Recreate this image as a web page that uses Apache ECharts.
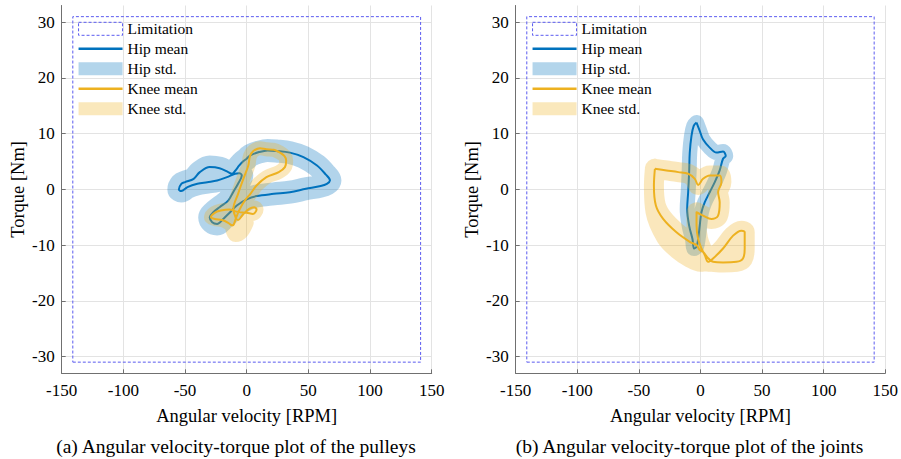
<!DOCTYPE html>
<html><head><meta charset="utf-8">
<script src="https://cdn.jsdelivr.net/npm/echarts@6/dist/echarts.min.js"></script>
<style>html,body{margin:0;padding:0;background:#fff}#c{width:901px;height:459px}</style>
</head><body><div id="c"></div>
<script>
// ---------- data ----------
const xMin = -150, xMax = 150, xStep = 50;
const yMin = -33, yMax = 33;
const legendNames = ['Limitation', 'Hip mean', 'Hip std.', 'Knee mean', 'Knee std.'];
const captions = ['(a) Angular velocity-torque plot of the pulleys', '(b) Angular velocity-torque plot of the joints'];
const axisNames = ['Angular velocity [RPM]', 'Torque [Nm]'];

// limitation rectangle corners [velocity, torque]
const limitation = [[-141, -31], [141, -31], [141, 31], [-141, 31], [-141, -31]];

// (a) pulleys: mean loops [velocity RPM, torque Nm]
const pulleyHipMean = [
  [0, 5.5], [3, 6.1], [10, 6.7], [17, 7.0], [24, 6.9], [35, 6.6], [46, 5.8], [57, 4.3], [64, 2.7], [67.5, 1.6],
  [65, 1.0], [60, 0.6], [48, 0.1], [35, -0.5], [22, -0.8], [8, -1.2], [0, -1.8], [-8, -2.9], [-13.5, -4.1],
  [-19, -5.3], [-24, -6.2], [-28, -5.9], [-30, -5.0], [-27, -4.1], [-22, -3.2], [-15, -2.0], [-11, -0.5],
  [-7, 1.0], [-4, 2.5], [-6, 2.9], [-9.5, 2.8], [-16, 2.2], [-24, 1.6], [-32, 1.3], [-40, 1.0], [-48, 0.4],
  [-53, -0.3], [-55, 0.0], [-53, 1.0], [-50, 1.3], [-43, 1.9], [-38, 3.1], [-30, 4.0], [-22, 3.8], [-15, 3.1],
  [-12, 2.8], [-9.5, 3.3], [-6, 4.3], [-3, 5.0], [0, 5.5]
];
const pulleyKneeMean = [
  [-12, -6.5], [-15, -6.0], [-20, -5.5], [-26, -5.3], [-29, -5.0], [-26, -4.2], [-21, -3.8], [-14, -3.6],
  [-8, -4.0], [0, -4.2], [5, -4.4], [8, -3.6], [6, -3.2], [2, -3.5], [-3, -4.5], [-7, -5.5], [-9, -5.0],
  [-10.8, -3.5], [-7, -0.8], [-2.7, 1.9], [1.3, 4.3], [2.7, 6.0], [5.4, 6.9], [10.8, 7.4], [16, 7.2], [22, 7.1],
  [27, 6.6], [30.5, 6.0], [32, 5.2], [31, 4.0], [26, 3.1], [16, 2.2], [8, 0.7], [3, -0.8], [-1.5, -2.0],
  [-5.5, -3.5], [-8.5, -5.0], [-10.5, -6.3], [-12, -6.5]
];
// (a) centre lines of the shaded std bands
const pulleyHipStd = pulleyHipMean;
const pulleyKneeStd = pulleyKneeMean.concat([[-9, -8.2], [-4, -7.6], [0, -6.0]]);

// (b) joints
const jointHipMean = [
  [-3.2, 12.0], [-0.6, 10.5], [2, 9.0], [7.5, 7.5], [13, 6.6], [18.3, 6.8], [20.5, 6.0], [18.3, 5.5], [15.6, 3.4],
  [11.6, 1.3], [7.5, -0.5], [3.5, -2.3], [0.8, -4.1], [-0.6, -6.5], [-1.9, -8.9], [-3.2, -10.3], [-5.2, -10.6],
  [-6.5, -8.9], [-9.2, -6.5], [-10.8, -3.5], [-10, -0.5], [-9.2, 3.1], [-8.7, 6.6], [-7.3, 9.6], [-5.5, 11.4],
  [-3.2, 12.0]
];
const jointKneeMean = [
  [-37, 3.7], [-27.6, 3.4], [-18, 3.1], [-10, 2.8], [-4.6, 1.9], [-1.9, 0.8], [2.1, 1.9], [7.5, 2.5], [15.6, 2.5],
  [17, 1.3], [14.3, -0.5], [15.6, -2.3], [14.3, -4.7], [8.9, -5.3], [2.1, -4.7], [-3.2, -4.1], [-3.2, -6.5],
  [-1.9, -8.9], [0.8, -10.6], [3.5, -11.8], [6.2, -13.0], [10.2, -12.4], [18.3, -10.6], [26.5, -8.3], [33.2, -7.4],
  [35.9, -7.7], [35.9, -10.6], [34.5, -12.4], [29.2, -13.0], [18.3, -13.1], [10.2, -13.0], [6, -12.3], [2, -11.2],
  [-0.6, -10.9], [-3.2, -10.0], [-8.7, -9.4], [-19.5, -7.7], [-30.3, -5.3], [-36.2, -2.9], [-37.8, 0.7], [-37, 3.7]
];
const jointHipStd = jointHipMean;
const jointKneeStd = jointKneeMean.concat([
  [-37.8, 0.7], [-36.5, -4.0], [-28, -8.5], [-18, -10.8], [-8, -12.3], [0, -13.0], [8, -12.2], [16, -11.3],
  [24, -10.5], [31, -10.2]
]);

// ---------- styling ----------
const HIP = '#0072BD', KNEE = '#EDB120', LIM = '#5b5bf0';
const FONT = "'Liberation Serif','Times New Roman',serif";
const panels = [
  { left: 61.7, hip: pulleyHipMean, knee: pulleyKneeMean, hipStd: pulleyHipStd, kneeStd: pulleyKneeStd, hipBand: 23, kneeBand: 14, cap: 236 },
  { left: 515.7, hip: jointHipMean, knee: jointKneeMean, hipStd: jointHipStd, kneeStd: jointKneeStd, hipBand: 15, kneeBand: 20, cap: 689.5 }
];
const gridTop = 5.5, gridH = 367.8, gridW = 370;

const grids = [], xAxes = [], yAxes = [], series = [], legends = [], graphics = [];
panels.forEach((p, i) => {
  grids.push({ left: p.left, top: gridTop, width: gridW, height: gridH });
  xAxes.push({
    type: 'value', gridIndex: i, min: xMin, max: xMax, interval: xStep,
    name: axisNames[0], nameLocation: 'middle', nameGap: 33,
    nameTextStyle: { fontFamily: FONT, fontSize: 18.5, color: '#000' },
    axisLine: { onZero: false, lineStyle: { color: '#707070', width: 1 } },
    axisTick: { inside: true, length: 4, lineStyle: { color: '#707070' } },
    axisLabel: { fontFamily: FONT, fontSize: 17, color: '#000', margin: 9 },
    splitLine: { show: true, lineStyle: { color: '#e3e3e3', width: 1 } }
  });
  yAxes.push({
    type: 'value', gridIndex: i, min: yMin, max: yMax, splitNumber: 6,
    name: axisNames[1], nameLocation: 'middle', nameGap: 34, nameRotate: 90,
    nameTextStyle: { fontFamily: FONT, fontSize: 18.5, color: '#000' },
    axisLine: { onZero: false, lineStyle: { color: '#707070', width: 1 } },
    axisTick: { inside: true, length: 4, lineStyle: { color: '#707070' } },
    axisLabel: { fontFamily: FONT, fontSize: 17, color: '#000', margin: 7, showMinLabel: false, showMaxLabel: false },
    splitLine: { show: true, showMinLine: false, showMaxLine: false, lineStyle: { color: '#e3e3e3', width: 1 } }
  });
  const base = { type: 'line', xAxisIndex: i, yAxisIndex: i, symbol: 'none', silent: true, animation: false };
  series.push(Object.assign({}, base, {
    name: legendNames[0], data: limitation, color: LIM,
    lineStyle: { color: LIM, width: 1, type: [3, 2] }
  }));
  series.push(Object.assign({}, base, {
    name: legendNames[2], data: p.hipStd, color: HIP, smooth: 0.35,
    lineStyle: { color: HIP, width: p.hipBand, opacity: 0.3, cap: 'round', join: 'round' }
  }));
  series.push(Object.assign({}, base, {
    name: legendNames[1], data: p.hip, color: HIP, smooth: 0.35,
    lineStyle: { color: HIP, width: 2, join: 'round' }
  }));
  series.push(Object.assign({}, base, {
    name: legendNames[4], data: p.kneeStd, color: KNEE, smooth: 0.35,
    lineStyle: { color: KNEE, width: p.kneeBand, opacity: 0.3, cap: 'round', join: 'round' }
  }));
  series.push(Object.assign({}, base, {
    name: legendNames[3], data: p.knee, color: KNEE, smooth: 0.35,
    lineStyle: { color: KNEE, width: 2, join: 'round' }
  }));
  legends.push({
    left: p.left + 15.6, top: 20.8, orient: 'vertical', padding: 0, itemGap: 4,
    itemWidth: 44, itemHeight: 13, selectedMode: false,
    textStyle: { fontFamily: FONT, fontSize: 15.5, color: '#000', lineHeight: 15 },
    data: [
      { name: legendNames[0], icon: 'rect', itemStyle: { color: 'rgba(0,0,0,0)', borderColor: LIM, borderWidth: 1, borderType: [3, 2], opacity: 1 } },
      { name: legendNames[1], itemStyle: { opacity: 0 }, lineStyle: { width: 2.5, color: HIP, opacity: 1 } },
      { name: legendNames[2], icon: 'rect', itemStyle: { color: '#b3d5eb', opacity: 1, borderWidth: 0 } },
      { name: legendNames[3], itemStyle: { opacity: 0 }, lineStyle: { width: 2.5, color: KNEE, opacity: 1 } },
      { name: legendNames[4], icon: 'rect', itemStyle: { color: '#fae8bc', opacity: 1, borderWidth: 0 } }
    ]
  });
  graphics.push({
    type: 'text', x: p.cap, y: 446,
    style: { text: captions[i], fill: '#000', font: "19.5px 'Liberation Serif','Times New Roman',serif", textAlign: 'center', textVerticalAlign: 'middle' }
  });
});

const chart = echarts.init(document.getElementById('c'), null, { renderer: 'svg' });
chart.setOption({
  animation: false,
  backgroundColor: '#fff',
  grid: grids, xAxis: xAxes, yAxis: yAxes, series: series, legend: legends, graphic: graphics
});
</script></body></html>
